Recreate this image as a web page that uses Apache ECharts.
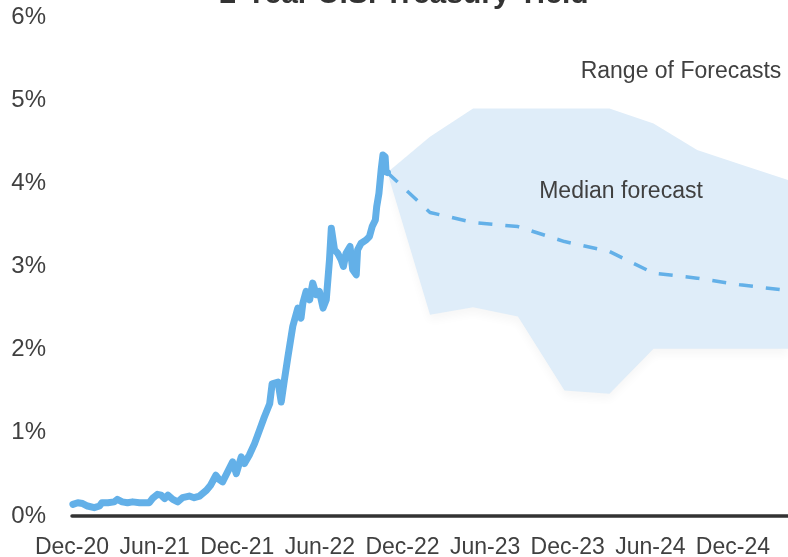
<!DOCTYPE html>
<html>
<head>
<meta charset="utf-8">
<title>2-Year U.S. Treasury Yield</title>
<script src="https://cdn.jsdelivr.net/npm/echarts@6/dist/echarts.min.js"></script>
<style>
  html, body { margin: 0; padding: 0; background: #ffffff; }
  #chart { width: 788px; height: 557px; }
</style>
</head>
<body>
<div id="chart"></div>
<script>
// Daily-ish history of the 2-year yield (percent)
const histDates = [
  '2020-12-03','2020-12-14','2020-12-25','2021-01-05','2021-01-20','2021-02-01','2021-02-06','2021-02-18',
  '2021-03-03','2021-03-10','2021-03-21','2021-04-02','2021-04-13','2021-04-28','2021-05-09','2021-05-20',
  '2021-05-27','2021-06-07','2021-06-15','2021-06-23','2021-06-30','2021-07-11','2021-07-22','2021-08-02',
  '2021-08-17','2021-08-28','2021-09-09','2021-09-24','2021-10-03','2021-10-15','2021-10-22','2021-10-30',
  '2021-11-10','2021-11-21','2021-11-29','2021-12-10','2021-12-17','2021-12-28','2022-01-09','2022-01-20',
  '2022-01-31','2022-02-11','2022-02-16','2022-02-28','2022-03-07','2022-03-14','2022-03-22','2022-04-02',
  '2022-04-13','2022-04-20','2022-04-24','2022-05-01','2022-05-09','2022-05-16','2022-05-24','2022-05-31',
  '2022-06-08','2022-06-15','2022-06-22','2022-06-26','2022-07-03','2022-07-10','2022-07-18','2022-07-23',
  '2022-07-29','2022-08-07','2022-08-13','2022-08-21','2022-08-24','2022-09-01','2022-09-12','2022-09-19',
  '2022-09-25','2022-10-02','2022-10-05','2022-10-10','2022-10-15','2022-10-19','2022-10-24','2022-10-26',
  '2022-10-29'
];
const histYield = [
  0.14, 0.16, 0.15, 0.12, 0.10, 0.12, 0.16, 0.16,
  0.17, 0.20, 0.17, 0.16, 0.17, 0.16, 0.16, 0.16,
  0.21, 0.26, 0.25, 0.21, 0.25, 0.20, 0.17, 0.22,
  0.24, 0.22, 0.24, 0.31, 0.37, 0.49, 0.44, 0.41,
  0.53, 0.65, 0.51, 0.71, 0.63, 0.73, 0.87, 1.03,
  1.19, 1.35, 1.59, 1.61, 1.37, 1.63, 1.91, 2.28,
  2.50, 2.38, 2.56, 2.70, 2.60, 2.80, 2.66, 2.70,
  2.50, 2.60, 3.08, 3.46, 3.20, 3.16, 3.08, 3.00,
  3.16, 3.24, 2.96, 2.90, 3.20, 3.28, 3.32, 3.36,
  3.48, 3.56, 3.72, 3.88, 4.16, 4.34, 4.32, 4.14,
  4.13
];

// Quarterly forecast path: median and range of forecasts (percent)
const fcDates  = ['2022-10-29','2023-02-01','2023-05-05','2023-08-13','2023-11-24','2024-03-02','2024-06-08','2024-09-13','2024-12-17','2025-04-01'];
const fcMedian = [4.13, 3.65, 3.53, 3.48, 3.30, 3.18, 2.92, 2.86, 2.78, 2.71];
const fcHigh   = [4.13, 4.56, 4.90, 4.90, 4.90, 4.90, 4.72, 4.40, 4.23, 4.04];
const fcLow    = [4.13, 2.42, 2.51, 2.40, 1.51, 1.47, 2.01, 2.01, 2.01, 2.01];

// Half-year tick labels along the time axis
const xTickLabels = ['Dec-20','Jun-21','Dec-21','Jun-22','Dec-22','Jun-23','Dec-23','Jun-24','Dec-24'];

// Months elapsed since 1 Dec 2020 (fractional), used as the x value
function monthIndex(s) {
  const [y, m, d] = s.split('-').map(Number);
  const days = new Date(y, m, 0).getDate();
  return (y - 2020) * 12 + (m - 12) + (d - 1) / days;
}

const BLUE = '#63b0e8';
const BAND = '#dfedf9';
const TEXT = '#404040';
const FONT = '"Liberation Sans", Arial, sans-serif';

const histData = histDates.map((d, i) => [monthIndex(d), histYield[i]]);
const rangeData = fcDates.map((d, i) => [monthIndex(d), fcLow[i], fcHigh[i]]);
const medData = fcDates.map((d, i) => [monthIndex(d), fcMedian[i]]);

// Shaded band between the lowest and highest forecasts, drawn as one polygon
function renderRange(params, api) {
  if (params.dataIndex !== 0) return null;
  const top = rangeData.map(r => api.coord([r[0], r[2]]));
  const bottom = rangeData.map(r => api.coord([r[0], r[1]])).reverse();
  return {
    type: 'polygon',
    shape: { points: top.concat(bottom) },
    style: {
      fill: BAND,
      shadowColor: 'rgba(0,0,0,0.035)',
      shadowBlur: 8,
      shadowOffsetY: 6
    },
    silent: true
  };
}

const chart = echarts.init(document.getElementById('chart'), null, { renderer: 'canvas' });

chart.setOption({
  animation: false,
  backgroundColor: '#ffffff',
  grid: { left: 72, right: 0, top: 17, bottom: 41, containLabel: false, outerBoundsMode: 'none' },
  xAxis: {
    type: 'value',
    min: 0,
    max: 52,
    interval: 6,
    splitLine: { show: false },
    axisTick: { show: false },
    axisLine: { show: true, lineStyle: { color: '#333333', width: 3.5 } },
    axisLabel: {
      showMaxLabel: false,
      margin: 20,
      color: TEXT,
      fontSize: 23,
      fontFamily: FONT,
      formatter: v => (v % 6 === 0 && xTickLabels[v / 6]) ? xTickLabels[v / 6] : ''
    }
  },
  yAxis: {
    type: 'value',
    min: 0,
    max: 6,
    interval: 1,
    splitLine: { show: false },
    axisTick: { show: false },
    axisLine: { show: false },
    axisLabel: {
      margin: 26,
      color: TEXT,
      fontSize: 24,
      fontFamily: FONT,
      formatter: '{value}%'
    }
  },
  graphic: {
    elements: [
      {
        type: 'text', x: 404, y: -5, z: 100,
        style: { text: '2-Year U.S. Treasury Yield', fill: '#333333', font: 'bold 30px ' + FONT, align: 'center', verticalAlign: 'middle' }
      },
      {
        type: 'text', x: 681, y: 72, z: 100,
        style: { text: 'Range of Forecasts', fill: TEXT, font: '23px ' + FONT, align: 'center', verticalAlign: 'middle' }
      },
      {
        type: 'text', x: 621, y: 192, z: 100,
        style: { text: 'Median forecast', fill: TEXT, font: '23px ' + FONT, align: 'center', verticalAlign: 'middle' }
      }
    ]
  },
  series: [
    {
      name: 'Range of Forecasts',
      type: 'custom',
      renderItem: renderRange,
      data: rangeData,
      encode: { x: 0, y: [1, 2] },
      silent: true,
      clip: true,
      z: 1
    },
    {
      name: 'Median forecast',
      type: 'line',
      data: medData,
      symbol: 'none',
      lineStyle: { color: BLUE, width: 3.5, type: [14, 13] },
      z: 3
    },
    {
      name: '2-Year Yield',
      type: 'line',
      data: histData,
      symbol: 'none',
      lineStyle: { color: BLUE, width: 7, join: 'round', cap: 'round' },
      z: 4
    }
  ]
});
</script>
</body>
</html>
